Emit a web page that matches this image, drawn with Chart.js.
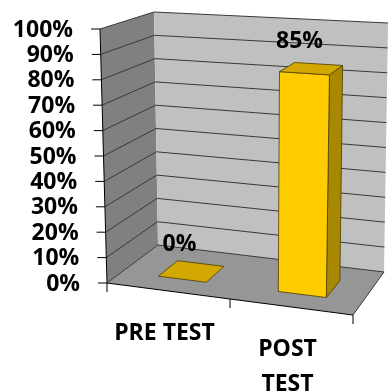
<!DOCTYPE html>
<html>
<head>
<meta charset="utf-8">
<style>
  html, body { margin: 0; padding: 0; background: #ffffff; }
  canvas { display: block; }
</style>
</head>
<body>
<canvas id="chart" width="388" height="392"></canvas>
<script src="https://cdn.jsdelivr.net/npm/chart.js@4/dist/chart.umd.min.js"></script>
<script>
// ---- data ----
const categories = ['PRE TEST', ['POST', 'TEST']];
const scores = [0, 85];
const valueTicks = [0, 10, 20, 30, 40, 50, 60, 70, 80, 90, 100];
const tickLabels = ['0%', '10%', '20%', '30%', '40%', '50%', '60%', '70%', '80%', '90%', '100%'];

// ---- look ----
const FONT = 'bold 23px "Open Sans", "Liberation Sans", sans-serif';
const COLORS = {
  leftWall: '#808080',
  backWall: '#c0c0c0',
  floor: '#969696',
  grid: '#383838',
  axis: '#000000',
  barFront: '#ffcc00',
  barTop: '#d2a800',
  barSide: '#a88800',
  barEdge: '#4a3b00',
  text: '#000000'
};
const BAR_DEPTH = [0.3, 0.7];   // bar position inside the floor depth (front .. back)

// Corners of the 3D box, taken relative to the chart area.
function boxCorners(a) {
  return {
    front: { lt: [a.left, a.top], lb: [a.left + 7, a.bottom], rt: [a.right, a.top + 15], rb: [a.right - 6, a.bottom + 32] },
    back:  { lt: [a.left + 54, a.top - 17], lb: [a.left + 58, a.bottom - 38], rt: [a.right + 29, a.top - 6], rb: [a.right + 25, a.bottom - 11] }
  };
}

// u: across the categories, v: value fraction, w: depth (0 front, 1 back)
function project(c, u, v, w) {
  const mix = (p, q, t) => [p[0] + (q[0] - p[0]) * t, p[1] + (q[1] - p[1]) * t];
  const plane = s => mix(mix(s.lb, s.lt, v), mix(s.rb, s.rt, v), u);
  return mix(plane(c.front), plane(c.back), w);
}

function fillPoly(ctx, pts, fill, stroke, lw) {
  ctx.beginPath();
  ctx.moveTo(pts[0][0], pts[0][1]);
  for (let i = 1; i < pts.length; i++) ctx.lineTo(pts[i][0], pts[i][1]);
  ctx.closePath();
  ctx.fillStyle = fill;
  ctx.fill();
  if (stroke) { ctx.strokeStyle = stroke; ctx.lineWidth = lw || 1; ctx.stroke(); }
}

function segment(ctx, p, q, color, lw) {
  ctx.beginPath();
  ctx.moveTo(p[0], p[1]);
  ctx.lineTo(q[0], q[1]);
  ctx.strokeStyle = color;
  ctx.lineWidth = lw || 1;
  ctx.stroke();
}

function label(ctx, text, px, py, align) {
  ctx.font = FONT;
  ctx.fillStyle = COLORS.text;
  ctx.textAlign = align;
  ctx.textBaseline = 'middle';
  ctx.fillText(text, px, py);
}

const box3d = {
  id: 'box3d',
  beforeDatasetsDraw(chart) {
    const { ctx, chartArea: a, scales: { x, y } } = chart;
    const c = boxCorners(a);
    const P = (u, v, w) => project(c, u, v, w);
    const vOf = val => (a.bottom - y.getPixelForValue(val)) / a.height;
    const uOfPx = px => (px - a.left) / a.width;

    ctx.save();

    // walls and floor
    fillPoly(ctx, [P(0, 0, 0), P(0, 1, 0), P(0, 1, 1), P(0, 0, 1)], COLORS.leftWall);
    fillPoly(ctx, [P(0, 0, 1), P(0, 1, 1), P(1, 1, 1), P(1, 0, 1)], COLORS.backWall);
    fillPoly(ctx, [P(0, 0, 0), P(0, 0, 1), P(1, 0, 1), P(1, 0, 0)], COLORS.floor);

    // horizontal gridlines on the side and back walls
    y.ticks.forEach(t => {
      const v = vOf(t.value);
      segment(ctx, P(0, v, 0), P(0, v, 1), COLORS.grid, 1);
      segment(ctx, P(0, v, 1), P(1, v, 1), COLORS.grid, 1);
    });
    segment(ctx, P(1, 0, 0), P(1, 0, 1), COLORS.grid, 1);

    // value axis: edge, tick marks, labels
    segment(ctx, P(0, 0, 0), P(0, 1, 0), COLORS.axis, 1);
    y.ticks.forEach((t, i) => {
      const p = P(0, vOf(t.value), 0);
      segment(ctx, [p[0] - 9, p[1]], p, COLORS.axis, 1);
      label(ctx, tickLabels[i], p[0] - 27, p[1] + 1, 'right');
    });

    // category axis: front floor edge and boundary ticks
    segment(ctx, P(0, 0, 0), P(1, 0, 0), COLORS.axis, 1);
    const n = x.getLabels().length;
    for (let i = 0; i <= n; i++) {
      const p = P(i / n, 0, 0);
      segment(ctx, p, [p[0], p[1] + 9], COLORS.axis, 1);
    }

    // bars
    const meta = chart.getDatasetMeta(0);
    const [w0, w1] = BAR_DEPTH;
    meta.data.forEach((bar, i) => {
      const u0 = uOfPx(bar.x - bar.width / 2);
      const u1 = uOfPx(bar.x + bar.width / 2);
      const v0 = (a.bottom - bar.base) / a.height;
      const v1 = (a.bottom - bar.y) / a.height;
      if (v1 - v0 > 0.001) {
        fillPoly(ctx, [P(u1, v0, w0), P(u1, v1, w0), P(u1, v1, w1), P(u1, v0, w1)], COLORS.barSide, COLORS.barEdge, 0.8);
        fillPoly(ctx, [P(u0, v0, w0), P(u1, v0, w0), P(u1, v1, w0), P(u0, v1, w0)], COLORS.barFront, COLORS.barEdge, 0.8);
      }
      fillPoly(ctx, [P(u0, v1, w0), P(u1, v1, w0), P(u1, v1, w1), P(u0, v1, w1)], COLORS.barTop, COLORS.barEdge, 0.8);

      // value label above the bar
      const top = P((u0 + u1) / 2, v1, (w0 + w1) / 2);
      label(ctx, scores[i] + '%', top[0] - 12, top[1] - 27, 'center');

      // category label under the front edge
      const base = P(uOfPx(bar.x), 0, 0);
      [].concat(categories[i]).forEach((line, k) => label(ctx, line, base[0] - 4, base[1] + 42 + k * 35, 'center'));
    });

    ctx.restore();
    return false;
  }
};

new Chart(document.getElementById('chart'), {
  type: 'bar',
  data: {
    labels: categories,
    datasets: [{ data: scores, categoryPercentage: 1, barPercentage: 0.4, backgroundColor: COLORS.barFront }]
  },
  options: {
    responsive: false,
    animation: false,
    devicePixelRatio: 1,
    layout: { padding: { left: 100, top: 29, right: 29, bottom: 109 } },
    plugins: { legend: { display: false }, tooltip: { enabled: false } },
    scales: {
      x: { display: false },
      y: {
        display: false,
        min: 0,
        max: 100,
        afterBuildTicks: scale => { scale.ticks = valueTicks.map(value => ({ value })); }
      }
    }
  },
  plugins: [box3d]
});
</script>
</body>
</html>
